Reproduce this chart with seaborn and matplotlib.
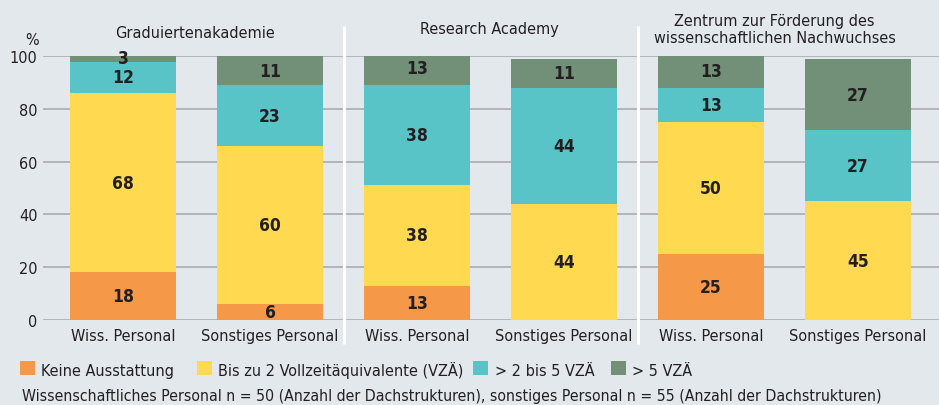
import numpy as np
import pandas as pd
import matplotlib
matplotlib.use("Agg")
import matplotlib.pyplot as plt
import matplotlib.transforms as mtransforms
from matplotlib import font_manager as fm
from matplotlib.font_manager import FontProperties
from matplotlib.patches import Rectangle
import seaborn as sns

# ---- data -------------------------------------------------------------
groups = ["Graduiertenakademie", "Research Academy",
          "Zentrum zur Förderung des\nwissenschaftlichen Nachwuchses"]
staff = ["Wiss. Personal", "Sonstiges Personal"]
categories = ["Keine Ausstattung", "Bis zu 2 Vollzeitäquivalente (VZÄ)",
              "> 2 bis 5 VZÄ", "> 5 VZÄ"]
keine = [18, 6, 13, 0, 25, 0]
bis_2 = [68, 60, 38, 44, 50, 45]
zwei_bis_5 = [12, 23, 38, 44, 13, 27]
ueber_5 = [3, 11, 13, 11, 13, 27]
y_ticks = [0, 20, 40, 60, 80, 100]
footnote = ("Wissenschaftliches Personal n = 50 (Anzahl der Dachstrukturen), "
            "sonstiges Personal n = 55 (Anzahl der Dachstrukturen)")

# ---- style ------------------------------------------------------------
BG = "#e3e8ec"
GRID = "#a9acb0"
TEXT = "#231f20"
colors = ["#f59848", "#ffd94f", "#58c4c7", "#728f78"]

sns.set_theme(style="whitegrid")


def condensed_family():
    for fam in ["DejaVu Sans", "Noto Sans", "Open Sans", "Roboto", "Liberation Sans Narrow"]:
        try:
            path = fm.findfont(FontProperties(family=fam, stretch="condensed"),
                               fallback_to_default=False)
        except Exception:
            continue
        low = path.lower()
        if "cond" in low or "narrow" in low:
            return fam, "condensed"
    return "DejaVu Sans", "normal"


family, stretch = condensed_family()
plt.rcParams["font.family"] = [family, "DejaVu Sans"]
plt.rcParams["font.stretch"] = stretch
plt.rcParams["text.color"] = TEXT

W, H = 939, 406
fig = plt.figure(figsize=(W / 100, H / 100), dpi=100, facecolor=BG)

y0_px, y100_px = 320.8, 57.3
unit = (y0_px - y100_px) / 100
ytop = 100.3
ax = fig.add_axes([43 / W, (H - y0_px) / H, 896 / W, ytop * unit / H])
ax.set_facecolor(BG)

# ---- stacked bars (drawn as cumulative totals, top layer first) --------
bar_ids = [f"{g}|{s}" for g in groups for s in staff]
layers = np.array([keine, bis_2, zwei_bis_5, ueber_5], dtype=float)
tops = layers.cumsum(axis=0)
bottoms = tops - layers

for i in range(len(categories) - 1, -1, -1):
    df = pd.DataFrame({"bar": bar_ids, "value": tops[i]})
    sns.barplot(data=df, x="bar", y="value", order=bar_ids, color=colors[i],
                saturation=1, width=0.72, errorbar=None, linewidth=0, ax=ax,
                label=categories[i])

for i in range(len(categories)):
    for j in range(len(bar_ids)):
        v = layers[i, j]
        if v > 0:
            ax.text(j, bottoms[i, j] + v / 2, f"{int(v)}", ha="center", va="center",
                    fontsize=12.5, fontweight="bold", color=TEXT)

# ---- axes -------------------------------------------------------------
step = 147
ax.set_xlim(-80 / step, (W - 123) / step)
ax.set_ylim(0, ytop)
ax.set_xticks(range(len(bar_ids)))
ax.set_xticklabels(staff * len(groups), fontsize=11.6, color=TEXT)
ax.set_yticks(y_ticks)
ax.set_yticklabels([str(t) for t in y_ticks], fontsize=11.6, color=TEXT)
ax.tick_params(axis="x", length=0, pad=6)
ax.tick_params(axis="y", length=0, pad=4)
ax.set_xlabel("")
ax.set_ylabel("")
ax.xaxis.grid(False)
ax.yaxis.grid(True, color=GRID, linewidth=1.2)
ax.set_axisbelow(True)
for s in ax.spines.values():
    s.set_visible(False)
if ax.get_legend() is not None:
    ax.get_legend().remove()

# group separators and titles
bt = mtransforms.blended_transform_factory(ax.transData, fig.transFigure)
for xd in [1.5, 3.5]:
    ax.plot([xd, xd], [1 - 27 / H, 1 - 345 / H], transform=bt, color="white",
            linewidth=2.2, clip_on=False, solid_capstyle="butt")

title_pos = [(0.5 - 2 / step, 38), (2.5 - 1 / step, 34), (4.5 - 10 / step, 43)]
for g, (xd, base) in zip(groups, title_pos):
    ax.text(xd, 1 - base / H, g, transform=bt, ha="center", va="baseline",
            fontsize=11.6, color=TEXT, linespacing=1.15, multialignment="center")

fig.text(32 / W, 1 - 45 / H, "%", ha="center", va="baseline", fontsize=11.6, color=TEXT)

# ---- legend -----------------------------------------------------------
sq_x = [20, 197, 473, 611]
txt_x = [41, 218, 495, 632]
for c, lab, sx, tx in zip(colors, categories, sq_x, txt_x):
    fig.add_artist(Rectangle((sx / W, 1 - 376 / H), 15 / W, 14 / H,
                             transform=fig.transFigure, facecolor=c, edgecolor="none"))
    fig.text(tx / W, 1 - 376 / H, lab, ha="left", va="baseline", fontsize=11.6, color=TEXT)

fig.text(22 / W, 1 - 401 / H, footnote, ha="left", va="baseline", fontsize=11.3, color=TEXT)

fig.savefig("out.png", dpi=100, facecolor=BG)
